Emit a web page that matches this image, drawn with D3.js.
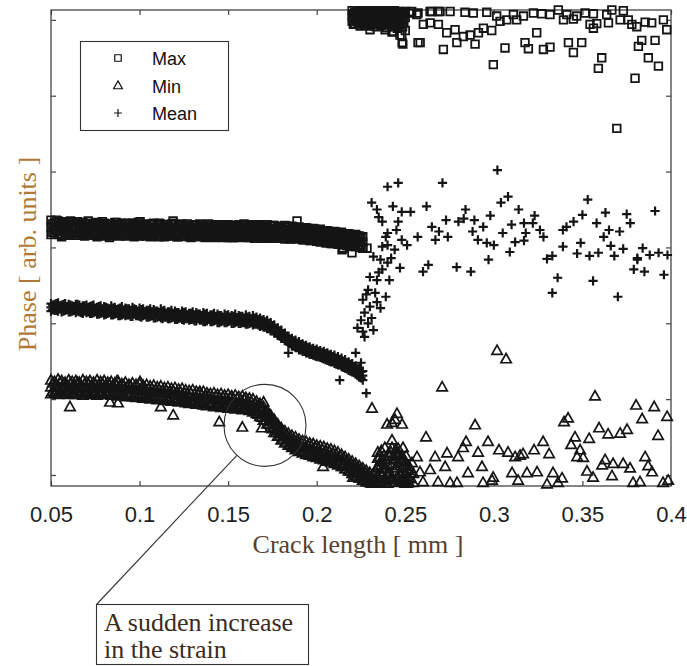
<!DOCTYPE html>
<html>
<head>
<meta charset="utf-8">
<script src="https://cdn.jsdelivr.net/npm/d3@7"></script>
<style>
	body { margin: 0; background: #fff; }
	svg { display: block; }
</style>
</head>
<body>
<svg id="chart" width="687" height="666"></svg>
<script>
let xTicks = [0.05, 0.1, 0.15, 0.2, 0.25, 0.3, 0.35, 0.4];
let xTickLabels = ["0.05", "0.1", "0.15", "0.2", "0.25", "0.3", "0.35", "0.4"];
let yTicks = [0, 1, 2, 3, 4, 5, 6];
let legendLabels = ["Max", "Min", "Mean"];

// dense part: each row is one crack length followed by its phase readings
let maxBand = [
	[.050,3.36,3.27,3.17],[.052,3.33,3.24,3.19],[.054,3.35,3.28,3.18],[.056,3.32,3.25,3.16],
	[.058,3.34,3.26,3.19],[.060,3.31,3.23,3.17],[.062,3.33,3.27,3.18],[.064,3.32,3.24,3.16],
	[.066,3.30,3.26,3.19],[.068,3.33,3.25,3.17],[.070,3.31,3.27,3.18],[.072,3.32,3.23,3.16],
	[.074,3.30,3.26,3.19],[.076,3.33,3.24,3.17],[.078,3.31,3.25,3.18],[.080,3.32,3.22,3.16],
	[.082,3.30,3.26,3.18],[.084,3.31,3.24,3.15],[.086,3.33,3.25,3.18],[.088,3.30,3.23,3.16],
	[.090,3.32,3.26,3.17],[.092,3.31,3.24,3.15],[.094,3.30,3.25,3.18],[.096,3.32,3.23,3.16],
	[.098,3.30,3.24,3.17],[.100,3.31,3.25,3.15],[.102,3.29,3.22,3.17],[.104,3.31,3.24,3.16],
	[.106,3.30,3.23,3.14],[.108,3.32,3.25,3.17],[.110,3.29,3.22,3.15],[.112,3.31,3.24,3.16],
	[.114,3.30,3.23,3.14],[.116,3.29,3.25,3.17],[.118,3.31,3.22,3.15],[.120,3.30,3.24,3.16],
	[.122,3.29,3.23,3.14],[.124,3.31,3.22,3.16],[.126,3.30,3.24,3.15],[.128,3.28,3.21,3.14],
	[.130,3.30,3.23,3.16],[.132,3.29,3.22,3.15],[.134,3.31,3.24,3.14],[.136,3.28,3.21,3.16],
	[.138,3.30,3.23,3.14],[.140,3.29,3.22,3.15],[.142,3.28,3.24,3.13],[.144,3.30,3.21,3.15],
	[.146,3.29,3.23,3.14],[.148,3.28,3.22,3.16],[.150,3.30,3.20,3.13],[.152,3.29,3.23,3.15],
	[.154,3.28,3.21,3.14],[.156,3.30,3.22,3.13],[.158,3.29,3.24,3.15],[.160,3.27,3.21,3.14],
	[.162,3.29,3.22,3.13],[.164,3.30,3.20,3.15],[.166,3.28,3.23,3.14],[.168,3.29,3.21,3.12],
	[.170,3.27,3.22,3.14],[.172,3.30,3.20,3.13],[.174,3.28,3.23,3.15],[.176,3.29,3.21,3.12],
	[.178,3.27,3.22,3.14],[.180,3.28,3.20,3.13],[.182,3.29,3.21,3.11],[.184,3.27,3.19,3.13],
	[.186,3.28,3.21,3.12],[.188,3.26,3.20,3.11],[.190,3.27,3.18,3.12],[.192,3.25,3.19,3.10],
	[.194,3.26,3.17,3.11],[.196,3.24,3.18,3.09],[.198,3.25,3.16,3.10],[.200,3.23,3.17,3.08],
	[.202,3.24,3.15,3.07],[.204,3.21,3.14,3.08],[.206,3.22,3.15,3.06],[.208,3.20,3.13,3.05],
	[.210,3.21,3.14,3.06],[.212,3.19,3.12,3.04],[.214,3.20,3.13,3.05],[.216,3.17,3.11,3.03],
	[.218,3.18,3.10,3.04],[.220,3.16,3.11,3.02],[.222,3.17,3.09,3.01],[.224,3.15,3.08,3.02],
	[.226,3.14,3.07,3.00],
	[.051,3.31,3.20],[.053,3.36,3.22],[.055,3.29,3.17],[.057,3.33,3.21],[.059,3.30,3.16],[.061,3.35,3.19],
	[.063,3.28,3.22],[.065,3.34,3.18],[.067,3.29,3.20],[.069,3.31,3.15],[.071,3.35,3.21],[.073,3.28,3.18],
	[.075,3.32,3.16],[.077,3.29,3.20],[.079,3.34,3.19],[.081,3.28,3.15],[.083,3.31,3.21],[.085,3.27,3.17],
	[.087,3.33,3.19],[.089,3.29,3.15],[.091,3.27,3.20],[.093,3.32,3.17],[.095,3.28,3.19],[.097,3.30,3.14],
	[.099,3.33,3.18],[.101,3.27,3.20],[.103,3.30,3.15],[.105,3.26,3.18],[.107,3.31,3.16],[.109,3.27,3.19],
	[.111,3.32,3.14],[.113,3.26,3.18],[.115,3.29,3.15],[.117,3.27,3.19],[.119,3.32,3.16],[.121,3.26,3.14],
	[.123,3.30,3.18],[.125,3.27,3.15],[.127,3.31,3.19],[.129,3.26,3.13],[.131,3.29,3.17],[.133,3.26,3.15],
	[.135,3.30,3.18],[.137,3.27,3.13],[.139,3.31,3.16],[.141,3.26,3.18],[.143,3.29,3.14],[.145,3.25,3.17],
	[.147,3.30,3.13],[.149,3.26,3.16],[.151,3.28,3.18],[.153,3.25,3.13],[.155,3.29,3.16],[.157,3.26,3.14],
	[.159,3.31,3.17],[.161,3.25,3.13],[.163,3.28,3.16],[.165,3.26,3.12],[.167,3.30,3.17],[.169,3.25,3.14],
	[.171,3.28,3.16],[.173,3.25,3.12],[.175,3.29,3.15],[.177,3.25,3.13],[.179,3.27,3.16],[.181,3.24,3.12],
	[.183,3.28,3.15],[.185,3.24,3.11],[.187,3.27,3.14],[.189,3.23,3.12],[.191,3.26,3.13],[.193,3.22,3.10],
	[.195,3.25,3.12],[.197,3.21,3.09],[.199,3.24,3.11],[.201,3.20,3.08],[.203,3.22,3.10],[.205,3.19,3.06],
	[.207,3.21,3.08],[.209,3.17,3.05],[.211,3.20,3.07],[.213,3.16,3.04],[.215,3.18,3.06],[.217,3.15,3.02],
	[.219,3.17,3.04],[.221,3.13,3.01],[.223,3.15,3.03],[.225,3.12,3.00],
	[.2200,6.12,6.05,5.98],[.2215,6.10,6.02,5.95],[.2230,6.12,6.06,5.99],[.2245,6.11,6.03,5.92],
	[.2260,6.12,6.05,5.97],[.2275,6.10,6.01,5.93],[.2290,6.12,6.06,5.98],[.2305,6.11,6.02,5.94],
	[.2320,6.12,6.04,5.96],[.2335,6.10,6.00,5.91],[.2350,6.12,6.05,5.97],[.2365,6.11,6.02,5.93],
	[.2380,6.12,6.04,5.95],[.2395,6.10,6.01,5.90],[.2410,6.12,6.05,5.96],[.2425,6.11,6.02,5.92],
	[.2440,6.12,6.03,5.94],[.2455,6.10,6.00,5.89],[.2470,6.11,6.04,5.95],[.2485,6.10,6.01,5.91],
	[.2500,6.11,6.03,5.86],
	[.2207,6.08,5.94],[.2222,6.09,5.99],[.2237,6.08,5.96],[.2252,6.09,5.98],[.2267,6.08,5.95],
	[.2282,6.09,5.99],[.2297,6.08,5.92],[.2312,6.09,5.97],[.2327,6.08,5.95],[.2342,6.09,5.99],
	[.2357,6.08,5.93],[.2372,6.09,5.98],[.2387,6.08,5.96],[.2402,6.09,5.93],[.2417,6.08,5.98],
	[.2432,6.09,5.95],[.2447,6.08,5.91],[.2462,6.09,5.97],[.2477,6.07,5.93],[.2492,6.08,5.96]
];

let maxScatter = [
	[.1003,3.34],[.1189,3.35],[.1889,3.35],[.2199,2.93],[.2284,2.99],[.2143,2.97],[.1522,3.13],
	[.076,3.14],[.083,3.13],[.056,3.14],[.162,3.14],[.184,3.13],[.215,2.99],[.226,2.99],
	[.2301,5.87],[.2386,5.87],[.2425,5.84],[.2470,5.80],[.2482,5.70],[.2572,5.70],[.2527,6.09],
	[.2572,6.09],[.2640,6.11],[.2685,6.11],[.2263,5.94],[.2433,5.85],[.2480,5.80],
	[.2536,6.11],[.2565,6.07],[.2649,6.11],[.2696,6.11],[.2753,6.11],[.2837,6.10],[.2884,6.09],
	[.2960,6.10],[.3016,6.05],[.3073,6.00],[.3110,6.07],[.3167,6.05],[.3223,6.09],[.3270,6.08],
	[.3317,6.07],[.3364,6.13],[.3412,6.07],[.3468,6.05],[.3515,6.09],[.3562,6.08],[.3637,6.07],
	[.3666,6.13],[.3731,6.12],[.3759,6.00],[.3854,5.97],[.3891,5.96],[.3957,6.00],[.3976,5.87],
	[.2602,5.94],[.2640,5.96],[.2687,5.94],[.2734,5.83],[.2781,5.87],[.2828,5.78],[.2866,5.80],
	[.2913,5.83],[.2941,5.89],[.2988,5.86],[.3035,5.98],[.3129,6.00],[.3242,5.83],[.3393,6.00],
	[.3449,6.01],[.3543,5.94],[.3562,5.89],[.3581,5.95],[.3647,5.96],[.3713,6.00],[.3779,5.94],
	[.3807,5.91],
	[.2486,5.68],[.2584,5.70],[.2715,5.61],[.2791,5.70],[.2894,5.68],[.2997,5.41],[.3063,5.63],
	[.3176,5.70],[.3195,5.62],[.3280,5.61],[.3317,5.64],[.3421,5.70],[.3449,5.57],[.3496,5.70],
	[.3590,5.36],[.3609,5.50],[.3694,4.57],[.3797,5.23],[.3816,5.65],[.3835,5.73],[.3872,5.50],
	[.3910,5.73],[.3929,5.39]
];

let meanBand = [
	[.050,2.26,2.21,2.16],[.052,2.25,2.20,2.17],[.054,2.27,2.22,2.16],[.056,2.24,2.19,2.15],
	[.058,2.26,2.21,2.17],[.060,2.25,2.20,2.15],[.062,2.23,2.19,2.16],[.064,2.25,2.21,2.14],
	[.066,2.24,2.18,2.15],[.068,2.23,2.20,2.13],[.070,2.24,2.18,2.14],[.072,2.22,2.19,2.13],
	[.074,2.24,2.17,2.14],[.076,2.21,2.18,2.12],[.078,2.23,2.16,2.13],[.080,2.22,2.18,2.11],
	[.082,2.20,2.16,2.13],[.084,2.23,2.17,2.11],[.086,2.21,2.15,2.12],[.088,2.19,2.16,2.10],
	[.090,2.22,2.15,2.11],[.092,2.20,2.17,2.10],[.094,2.19,2.14,2.11],[.096,2.21,2.16,2.09],
	[.098,2.18,2.14,2.10],[.100,2.20,2.15,2.09],[.102,2.19,2.13,2.10],[.104,2.17,2.14,2.08],
	[.106,2.19,2.12,2.09],[.108,2.18,2.14,2.07],[.110,2.16,2.12,2.08],[.112,2.19,2.13,2.07],
	[.114,2.17,2.11,2.08],[.116,2.15,2.12,2.06],[.118,2.17,2.10,2.07],[.120,2.16,2.12,2.05],
	[.122,2.14,2.10,2.06],[.124,2.16,2.11,2.05],[.126,2.15,2.09,2.06],[.128,2.13,2.10,2.04],
	[.130,2.15,2.08,2.05],[.132,2.14,2.10,2.03],[.134,2.12,2.08,2.04],[.136,2.14,2.09,2.02],
	[.138,2.13,2.07,2.03],[.140,2.11,2.08,2.02],[.142,2.13,2.06,2.03],[.144,2.12,2.08,2.01],
	[.146,2.10,2.06,2.02],[.148,2.12,2.07,2.01],[.150,2.11,2.05,2.02],[.152,2.10,2.07,2.00],
	[.154,2.12,2.05,2.01],[.156,2.10,2.06,2.00],[.158,2.09,2.04,2.01],[.160,2.11,2.06,1.99],
	[.162,2.09,2.04,2.00],[.164,2.10,2.05,1.98],[.166,2.08,2.03,1.99],[.168,2.07,2.02,1.96],
	[.170,2.05,2.00,1.95],[.172,2.04,1.98,1.93],[.174,2.01,1.96,1.90],[.176,1.98,1.93,1.87],
	[.178,1.94,1.89,1.84],[.180,1.91,1.86,1.80],[.182,1.87,1.82,1.77],[.184,1.83,1.79,1.73],
	[.186,1.80,1.76,1.70],[.188,1.78,1.73,1.68],[.190,1.76,1.71,1.65],[.192,1.73,1.68,1.63],
	[.194,1.71,1.66,1.61],[.196,1.69,1.64,1.59],[.198,1.67,1.62,1.58],[.200,1.66,1.61,1.56],
	[.202,1.64,1.59,1.55],[.204,1.63,1.58,1.53],[.206,1.61,1.56,1.51],[.208,1.59,1.54,1.49],
	[.210,1.58,1.52,1.47],[.212,1.56,1.50,1.45],[.214,1.54,1.48,1.43],[.216,1.52,1.46,1.41],
	[.218,1.49,1.44,1.38],[.220,1.47,1.41,1.36],[.222,1.44,1.38,1.33],[.224,1.41,1.35,1.29],
	[.226,1.37,1.31,1.25],
	[.051,2.24,2.18],[.053,2.26,2.17],[.055,2.23,2.19],[.057,2.25,2.16],[.059,2.22,2.18],[.061,2.24,2.15],
	[.063,2.22,2.17],[.065,2.25,2.16],[.067,2.21,2.14],[.069,2.23,2.16],[.071,2.21,2.15],[.073,2.23,2.13],
	[.075,2.20,2.15],[.077,2.22,2.12],[.079,2.19,2.14],[.081,2.21,2.12],[.083,2.19,2.14],[.085,2.20,2.11],
	[.087,2.18,2.13],[.089,2.20,2.10],[.091,2.17,2.12],[.093,2.19,2.11],[.095,2.17,2.09],[.097,2.19,2.12],
	[.099,2.16,2.10],[.101,2.18,2.08],[.103,2.15,2.11],[.105,2.17,2.08],[.107,2.15,2.10],[.109,2.16,2.07],
	[.111,2.14,2.09],[.113,2.16,2.06],[.115,2.13,2.08],[.117,2.15,2.06],[.119,2.13,2.08],[.121,2.14,2.05],
	[.123,2.12,2.07],[.125,2.14,2.04],[.127,2.11,2.06],[.129,2.13,2.05],[.131,2.11,2.03],[.133,2.12,2.06],
	[.135,2.10,2.04],[.137,2.12,2.02],[.139,2.09,2.05],[.141,2.11,2.02],[.143,2.09,2.04],[.145,2.10,2.01],
	[.147,2.08,2.03],[.149,2.10,2.01],[.151,2.08,2.03],[.153,2.09,2.00],[.155,2.07,2.02],[.157,2.09,2.00],
	[.159,2.07,2.01],[.161,2.08,1.99],[.163,2.06,2.01],[.165,2.07,1.99],[.167,2.05,1.98],[.169,2.04,1.97],
	[.171,2.02,1.95],[.173,2.00,1.93],[.175,1.97,1.90],[.177,1.93,1.87],[.179,1.90,1.83],[.181,1.86,1.80],
	[.183,1.83,1.76],[.185,1.79,1.73],[.187,1.77,1.70],[.189,1.74,1.68],[.191,1.72,1.65],[.193,1.70,1.63],
	[.195,1.68,1.61],[.197,1.66,1.59],[.199,1.64,1.57],[.201,1.63,1.56],[.203,1.61,1.54],[.205,1.60,1.52],
	[.207,1.58,1.50],[.209,1.56,1.49],[.211,1.54,1.46],[.213,1.52,1.45],[.215,1.50,1.42],[.217,1.48,1.40],
	[.219,1.46,1.37],[.221,1.43,1.35],[.223,1.40,1.31],[.225,1.36,1.28]
];

let meanScatter = [
	[.184,1.61],[.222,1.61],[.225,1.48],[.228,1.08],[.213,1.25],
	[.240,3.80],[.246,3.85],[.231,3.59],[.235,3.40],[.237,3.34],[.243,3.54],[.248,3.47],
	[.253,3.47],[.240,3.19],[.245,3.23],[.248,3.10],[.237,3.01],[.244,2.97],[.251,3.03],
	[.257,3.14],[.232,2.88],[.236,2.84],[.240,2.80],[.247,2.73],[.235,2.67],[.230,2.61],
	[.241,2.57],[.229,2.44],[.233,2.40],[.239,2.35],[.226,2.31],[.230,2.22],[.236,2.20],
	[.227,2.14],[.231,2.07],[.223,1.94],[.226,1.89],[.232,1.91],[.227,1.82],
	[.228,2.38],[.234,2.28],[.225,2.04],[.229,2.00],[.234,2.57],[.237,2.71],[.242,2.86],
	[.240,3.03],[.239,3.14],[.246,3.34],[.234,3.50],
	[.302,4.02],[.271,3.85],[.284,3.50],[.304,3.59],[.308,3.67],[.314,3.50],[.323,3.42],
	[.353,3.63],[.363,3.46],[.375,3.44],[.391,3.48],[.350,3.43],[.345,3.34],[.341,3.27],
	[.339,3.23],[.377,3.32],[.358,3.32],[.273,3.36],[.280,3.34],[.283,3.38],[.289,3.36],
	[.294,3.27],[.298,3.42],[.310,3.30],[.317,3.32],[.322,3.32],[.265,3.27],[.269,3.21],
	[.274,3.14],[.267,3.10],[.288,3.21],[.291,3.10],[.296,3.06],[.300,3.03],[.305,3.19],
	[.318,3.19],[.326,3.23],[.328,3.14],[.312,3.07],[.317,3.09],[.365,3.23],[.362,3.14],
	[.371,3.21],[.349,3.06],[.366,3.02],[.373,2.98],[.384,2.99],[.339,3.01],[.333,2.89],
	[.330,2.85],[.347,2.92],[.354,2.89],[.359,2.93],[.368,2.89],[.381,2.86],[.388,2.90],
	[.393,2.93],[.398,2.90],[.381,2.84],[.379,2.71],[.385,2.68],[.396,2.64],[.309,2.94],
	[.297,2.84],[.260,2.68],[.263,2.77],[.279,2.74],[.287,2.68],[.336,2.60],[.356,2.56],
	[.333,2.40],[.370,2.35],[.262,3.54]
];

let minBand = [
	[.050,1.25,1.16,1.07],[.052,1.23,1.15,1.08],[.054,1.26,1.17,1.06],[.056,1.24,1.14,1.08],
	[.058,1.22,1.16,1.07],[.060,1.25,1.15,1.06],[.062,1.23,1.17,1.08],[.064,1.24,1.14,1.06],
	[.066,1.22,1.16,1.07],[.068,1.25,1.15,1.05],[.070,1.23,1.17,1.08],[.072,1.24,1.14,1.06],
	[.074,1.22,1.16,1.07],[.076,1.25,1.15,1.05],[.078,1.23,1.17,1.08],[.080,1.24,1.14,1.06],
	[.082,1.22,1.16,1.07],[.084,1.23,1.15,1.05],[.086,1.21,1.13,1.06],[.088,1.23,1.15,1.04],
	[.090,1.20,1.12,1.05],[.092,1.22,1.14,1.03],[.094,1.19,1.12,1.04],[.096,1.21,1.13,1.03],
	[.098,1.19,1.11,1.02],[.100,1.20,1.12,1.03],[.102,1.18,1.10,1.01],[.104,1.19,1.11,1.02],
	[.106,1.17,1.09,1.00],[.108,1.18,1.10,1.01],[.110,1.16,1.08,0.99],[.112,1.17,1.09,1.00],
	[.114,1.15,1.07,0.98],[.116,1.16,1.08,0.99],[.118,1.14,1.06,0.97],[.120,1.15,1.07,0.98],
	[.122,1.13,1.05,0.96],[.124,1.14,1.06,0.97],[.126,1.12,1.03,0.95],[.128,1.11,1.04,0.94],
	[.130,1.12,1.02,0.95],[.132,1.10,1.03,0.93],[.134,1.09,1.01,0.94],[.136,1.10,1.00,0.92],
	[.138,1.08,1.01,0.91],[.140,1.07,0.99,0.92],[.142,1.08,1.00,0.90],[.144,1.06,0.98,0.91],
	[.146,1.07,0.99,0.89],[.148,1.05,0.97,0.90],[.150,1.06,0.98,0.88],[.152,1.04,0.96,0.89],
	[.154,1.05,0.97,0.87],[.156,1.03,0.95,0.88],[.158,1.04,0.96,0.86],[.160,1.02,0.94,0.87],
	[.162,1.01,0.93,0.85],[.164,1.00,0.91,0.83],[.166,0.97,0.89,0.81],[.168,0.94,0.86,0.77],
	[.170,0.90,0.81,0.72],[.172,0.85,0.76,0.67],[.174,0.79,0.70,0.62],[.176,0.73,0.64,0.56],
	[.178,0.67,0.59,0.51],[.180,0.62,0.54,0.46],[.182,0.58,0.50,0.42],[.184,0.55,0.47,0.39],
	[.186,0.52,0.44,0.36],[.188,0.50,0.41,0.33],[.190,0.47,0.39,0.31],[.192,0.45,0.37,0.29],
	[.194,0.44,0.36,0.27],[.196,0.42,0.34,0.26],[.198,0.41,0.33,0.24],[.200,0.39,0.31,0.23],
	[.202,0.38,0.30,0.21],[.204,0.37,0.29,0.20],[.206,0.35,0.27,0.18],[.208,0.34,0.26,0.17],
	[.210,0.32,0.24,0.15],[.212,0.30,0.22,0.13],[.214,0.27,0.19,0.11],[.216,0.24,0.16,0.08],
	[.218,0.21,0.13,0.05],[.220,0.18,0.10,0.02],[.222,0.15,0.07,-0.01],[.224,0.12,0.04,-0.04],
	[.226,0.09,0.01,-0.07],[.228,0.06,-0.02,-0.09],[.230,0.03,-0.05,-0.10],[.232,0.00,-0.08,-0.11],
	[.234,0.10,-0.02,-0.11],[.236,0.18,0.04,-0.09],[.238,0.25,0.08,-0.10],[.240,0.14,0.00,-0.11],
	[.242,0.30,0.12,-0.06],[.244,0.21,0.05,-0.10],[.246,0.35,0.16,-0.03],[.248,0.26,0.08,-0.09],
	[.250,0.18,0.02,-0.11],[.252,0.12,-0.04,-0.10],
	[.051,1.21,1.10],[.053,1.19,1.12],[.055,1.22,1.09],[.057,1.20,1.11],[.059,1.18,1.08],[.061,1.21,1.12],
	[.063,1.19,1.09],[.065,1.22,1.11],[.067,1.18,1.08],[.069,1.20,1.10],[.071,1.21,1.09],[.073,1.18,1.11],
	[.075,1.20,1.08],[.077,1.19,1.10],[.079,1.21,1.07],[.081,1.18,1.09],[.083,1.20,1.08],[.085,1.18,1.09],
	[.087,1.19,1.07],[.089,1.17,1.08],[.091,1.18,1.06],[.093,1.16,1.08],[.095,1.17,1.06],[.097,1.15,1.07],
	[.099,1.16,1.05],[.101,1.14,1.06],[.103,1.15,1.04],[.105,1.13,1.05],[.107,1.14,1.03],[.109,1.12,1.04],
	[.111,1.13,1.02],[.113,1.11,1.03],[.115,1.12,1.01],[.117,1.10,1.02],[.119,1.11,1.00],[.121,1.09,1.01],
	[.123,1.10,0.99],[.125,1.08,1.00],[.127,1.07,0.98],[.129,1.08,0.97],[.131,1.06,0.98],[.133,1.07,0.96],
	[.135,1.05,0.97],[.137,1.04,0.95],[.139,1.05,0.94],[.141,1.03,0.95],[.143,1.04,0.93],[.145,1.02,0.94],
	[.147,1.03,0.92],[.149,1.01,0.93],[.151,1.02,0.91],[.153,1.00,0.92],[.155,1.01,0.90],[.157,0.99,0.91],
	[.159,1.00,0.89],[.161,0.98,0.88],[.163,0.96,0.87],[.165,0.94,0.84],[.167,0.91,0.80],[.169,0.88,0.76],
	[.171,0.83,0.72],[.173,0.77,0.67],[.175,0.72,0.61],[.177,0.66,0.56],[.179,0.61,0.51],[.181,0.57,0.47],
	[.183,0.53,0.43],[.185,0.50,0.40],[.187,0.47,0.37],[.189,0.45,0.35],[.191,0.43,0.32],[.193,0.41,0.30],
	[.195,0.39,0.29],[.197,0.38,0.27],[.199,0.36,0.26],[.201,0.35,0.24],[.203,0.34,0.23],[.205,0.32,0.21],
	[.207,0.31,0.20],[.209,0.29,0.18],[.211,0.27,0.16],[.213,0.25,0.14],[.215,0.22,0.11],[.217,0.19,0.08],
	[.219,0.16,0.05],[.221,0.13,0.02],[.223,0.10,-0.01],[.225,0.07,-0.04],[.227,0.04,-0.07],[.229,0.01,-0.09],
	[.231,-0.02,-0.11],[.233,0.05,-0.08],[.235,0.12,-0.05],[.237,0.20,-0.02],[.239,0.08,-0.07],[.241,0.24,0.02],
	[.243,0.15,-0.05],[.245,0.28,0.09],[.247,0.20,0.00],[.249,0.13,-0.06],[.251,0.06,-0.11],
	[.2345,0.22,0.30],[.2365,0.32,0.13],[.2385,0.36,-0.04],[.2405,0.28,0.05],[.2425,0.36,-0.02],
	[.2445,0.33,-0.06],[.2465,0.26,-0.08],[.2485,0.20,-0.04],[.2505,0.25,-0.07],[.2525,0.08,-0.05],
	[.2545,0.02,-0.10]
];

let minScatter = [
	[.0607,0.90],[.0833,0.96],[.0878,0.95],[.119,0.79],[.112,0.90],[.145,0.70],[.158,0.63],
	[.169,0.62],[.170,0.96],[.0873,1.24],[.1003,1.23],[.134,1.10],[.2036,0.11],[.2205,-0.03],
	[.3018,1.64],[.3069,1.53],[.2708,1.16],[.2312,0.88],[.3571,1.04],[.3803,0.92],[.3905,0.90],
	[.3837,0.74],[.3978,0.77],[.3927,0.52],[.2397,0.67],[.2453,0.81],[.2442,0.73],[.2482,0.67],
	[.2894,0.66],[.3419,0.75],[.3396,0.70],[.3594,0.62],[.3645,0.54],[.3713,0.55],[.3752,0.60],
	[.2617,0.50],[.3458,0.50],[.3538,0.48],[.2425,0.46],[.2843,0.44],[.2967,0.44],[.3278,0.44],
	[.3436,0.40],[.3487,0.33],[.2487,0.36],[.2826,0.36],[.2911,0.30],[.3029,0.33],[.3080,0.30],
	[.3227,0.33],[.3312,0.28],[.3165,0.28],[.2736,0.29],[.2566,0.24],[.2798,0.24],[.3120,0.24],
	[.3148,0.26],[.3470,0.24],[.3504,0.23],[.2357,0.24],[.3628,0.20],[.3854,0.24],[.2668,0.24],
	[.3611,0.13],[.3673,0.15],[.3730,0.15],[.3769,0.09],[.3871,0.12],[.2725,0.11],[.2933,0.11],
	[.2640,0.07],[.2854,0.03],[.2583,0.04],[.3187,0.03],[.3244,0.04],[.3334,0.03],[.3526,0.05],
	[.3893,0.04],[.3103,0.03],[.3560,-0.03],[.3667,-0.01],[.2996,-0.03],[.3137,-0.07],
	[.3385,-0.04],[.2990,-0.07],[.2600,-0.09],[.2685,-0.09],[.2753,-0.10],[.2792,-0.10],
	[.2939,-0.10],[.3300,-0.12],[.3362,-0.10],[.3786,-0.10],[.3825,-0.09],[.3955,-0.10],
	[.3984,-0.07],[.2527,0.03],[.2499,0.11],[.2459,0.30],[.2431,0.20],[.2538,0.16],[.2425,0.69]
];

// annotation circle centre in data units
let noteCentre = [0.1708, 0.654];
let noteLines = ["A sudden increase", "in the strain"];

let sansFont = "'Liberation Sans', Arial, Helvetica, sans-serif";
let serifFont = "'Liberation Serif', 'Times New Roman', serif";

let svg = d3.select("#chart");

let x = d3.scaleLinear().domain([0.05, 0.4]).range([51, 671]);
let y = d3.scaleLinear().domain([-0.145, 6.13]).range([486, 10]);

let bandPoints = rows => rows.flatMap(r => r.slice(1).map(v => [r[0], v]));

let markerPath = {
	square: "M-3.8,-3.8H3.8V3.8H-3.8Z",
	triangle: "M0,-5.4L5.2,3.8H-5.2Z",
	plus: "M-4.6,0H4.6M0,-4.6V4.6"
};
let markerWidth = { square: 1.8, triangle: 1.7, plus: 2.2 };

// axes, ticks pointing in
let gx = svg.append("g")
	.attr("transform", "translate(0,486)")
	.call(d3.axisBottom(x).tickValues(xTicks).tickSize(-5).tickPadding(20)
		.tickFormat((d, i) => xTickLabels[i]));
gx.selectAll("text")
	.attr("font-size", 22)
	.attr("font-family", sansFont)
	.attr("fill", "#1e1e1e");

svg.append("g")
	.attr("transform", "translate(0,10)")
	.call(d3.axisTop(x).tickValues(xTicks).tickSize(-5).tickFormat(""));

svg.append("g")
	.attr("transform", "translate(51,0)")
	.call(d3.axisLeft(y).tickValues(yTicks).tickSize(-5).tickFormat(""));

svg.append("g")
	.attr("transform", "translate(671,0)")
	.call(d3.axisRight(y).tickValues(yTicks).tickSize(-5).tickFormat(""));

svg.selectAll(".domain").remove();
svg.selectAll(".tick line")
	.attr("stroke", "#444")
	.attr("stroke-width", 1.2);

svg.append("rect")
	.attr("x", 51)
	.attr("y", 10)
	.attr("width", 620)
	.attr("height", 476)
	.attr("fill", "none")
	.attr("stroke", "#444")
	.attr("stroke-width", 1.3);

// series
function drawSeries(points, shape) {
	svg.append("g")
		.selectAll("path")
		.data(points).enter()
		.append("path")
		.attr("transform", d => "translate(" + x(d[0]) + "," + y(d[1]) + ")")
		.attr("d", markerPath[shape])
		.attr("fill", "none")
		.attr("stroke", "#151515")
		.attr("stroke-width", markerWidth[shape]);
}

drawSeries(bandPoints(maxBand).concat(maxScatter), "square");
drawSeries(bandPoints(minBand).concat(minScatter), "triangle");
drawSeries(bandPoints(meanBand).concat(meanScatter), "plus");

// legend
let lg = svg.append("g");
lg.append("rect")
	.attr("x", 80.5)
	.attr("y", 41.5)
	.attr("width", 148)
	.attr("height", 89)
	.attr("fill", "#fff")
	.attr("stroke", "#333")
	.attr("stroke-width", 1.1);

let legendShapes = ["square", "triangle", "plus"];
legendLabels.forEach(function(name, i) {
	lg.append("path")
		.attr("transform", "translate(118," + (58 + i * 27.5) + ")scale(0.85)")
		.attr("d", markerPath[legendShapes[i]])
		.attr("fill", "none")
		.attr("stroke", "#111")
		.attr("stroke-width", 1.4);
	lg.append("text")
		.attr("x", 152)
		.attr("y", 65 + i * 27.5)
		.attr("font-size", 18)
		.attr("font-family", sansFont)
		.attr("fill", "#111")
		.text(name);
});

// axis titles
svg.append("text")
	.attr("x", 358)
	.attr("y", 553)
	.attr("text-anchor", "middle")
	.attr("font-size", 26)
	.attr("font-family", serifFont)
	.attr("fill", "#56412f")
	.text("Crack length [ mm ]");

svg.append("text")
	.attr("transform", "translate(36,254) rotate(-90)")
	.attr("text-anchor", "middle")
	.attr("font-size", 26)
	.attr("font-family", serifFont)
	.attr("fill", "#b07a36")
	.text("Phase [ arb. units ]");

// annotation
let cx = x(noteCentre[0]), cy = y(noteCentre[1]), r = 41;
let boxX = 96.5, boxY = 604.5;
let ang = Math.atan2(boxY - cy, boxX - cx);

svg.append("circle")
	.attr("cx", cx)
	.attr("cy", cy)
	.attr("r", r)
	.attr("fill", "none")
	.attr("stroke", "#333")
	.attr("stroke-width", 1.1);

svg.append("line")
	.attr("x1", cx + r * Math.cos(ang))
	.attr("y1", cy + r * Math.sin(ang))
	.attr("x2", boxX)
	.attr("y2", boxY)
	.attr("stroke", "#333")
	.attr("stroke-width", 1.1);

svg.append("rect")
	.attr("x", boxX)
	.attr("y", boxY)
	.attr("width", 212)
	.attr("height", 60)
	.attr("fill", "#fff")
	.attr("stroke", "#333")
	.attr("stroke-width", 1.1);

svg.append("g")
	.selectAll("text")
	.data(noteLines).enter()
	.append("text")
	.attr("x", 104)
	.attr("y", (d, i) => 631 + i * 27)
	.attr("font-size", 26)
	.attr("font-family", serifFont)
	.attr("fill", "#3b2c20")
	.text(d => d);
</script>
</body>
</html>
